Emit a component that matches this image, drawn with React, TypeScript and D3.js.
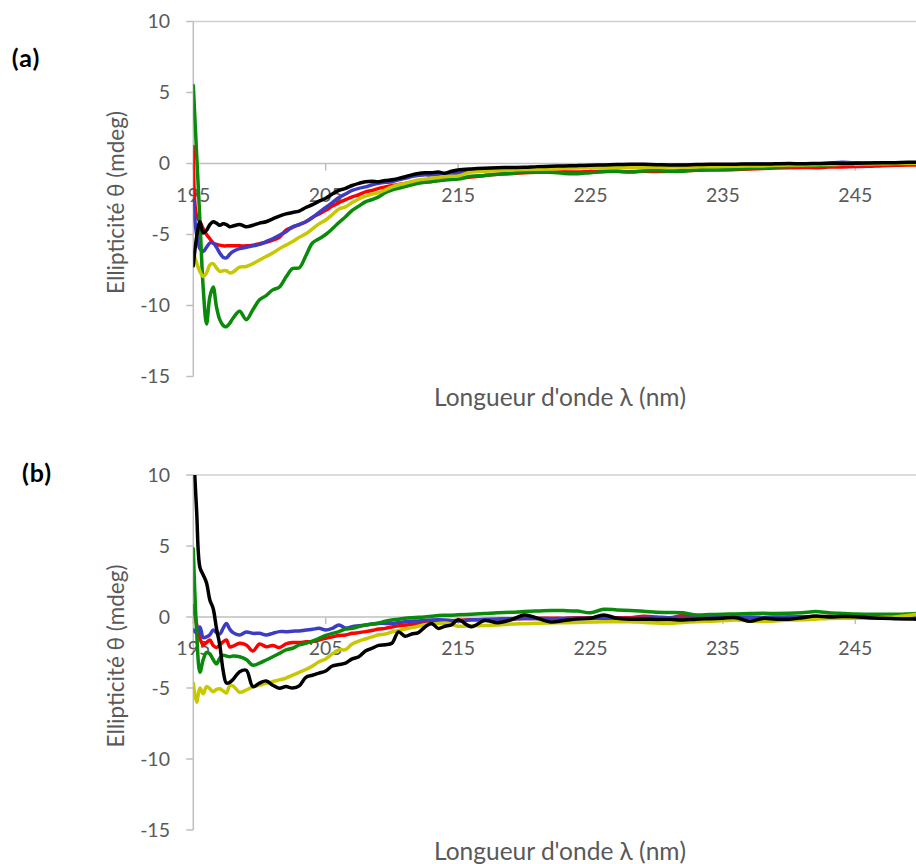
import React from "react";
import * as d3 from "d3";

// Wavelength grid (nm)
const WL: number[] = [
  195, 195.25, 195.5, 195.75, 196, 196.25, 196.5, 196.75, 197, 197.25, 197.5, 197.75, 198,
  198.5, 199, 199.5, 200, 200.5, 201, 201.5, 202, 202.5, 203, 203.5, 204, 204.5, 205,
  205.5, 206, 206.5, 207, 207.5, 208, 208.5, 209, 209.5, 210, 210.5, 211, 211.5, 212, 212.5, 213, 213.5, 214, 214.5, 215,
  216, 217, 218, 219, 220, 221, 222, 223, 224, 225, 226, 227, 228, 229, 230, 231, 232, 233, 234, 235,
  236, 237, 238, 239, 240, 241, 242, 243, 244, 245, 246, 247, 248, 249, 250,
];

const X_TICKS = [195, 205, 215, 225, 235, 245];
const Y_TICKS = [10, 5, 0, -5, -10, -15];
const X_TITLE = "Longueur d'onde λ (nm)";
const Y_TITLE = "Ellipticité θ (mdeg)";
const PANEL_LABELS = ["(a)", "(b)"];

// Panel (a)
const A_RED = [
  1.2, -3.7, -4.1, -4.6, -5.0, -5.3, -5.6, -5.7, -5.75, -5.8, -5.8, -5.8, -5.8,
  -5.8, -5.8, -5.75, -5.65, -5.55, -5.4, -5.2, -4.7, -4.5, -4.3, -4.1, -3.8, -3.55, -3.3,
  -3.0, -2.75, -2.55, -2.35, -2.2, -2.0, -1.9, -1.75, -1.65, -1.55, -1.47, -1.4, -1.33, -1.28, -1.27, -1.25, -1.18, -1.1, -1.07, -1.04,
  -0.95, -0.85, -0.75, -0.7, -0.65, -0.62, -0.6, -0.58, -0.6, -0.57, -0.55, -0.55, -0.58, -0.55, -0.57, -0.55, -0.5, -0.48, -0.46, -0.45,
  -0.42, -0.38, -0.35, -0.32, -0.3, -0.28, -0.3, -0.25, -0.24, -0.22, -0.2, -0.15, -0.12, -0.1, -0.1,
];
const A_BLUE = [
  -2.6, -5.0, -6.0, -6.2, -5.9, -5.6, -5.6, -5.9, -6.3, -6.6, -6.65, -6.4, -6.2,
  -6.0, -5.9, -5.8, -5.7, -5.5, -5.3, -5.05, -4.8, -4.45, -4.3, -4.1, -3.8, -3.45, -3.1,
  -2.75, -2.4, -2.15, -1.9, -1.75, -1.65, -1.5, -1.4, -1.33, -1.28, -1.15, -1.05, -0.92, -0.82, -0.8, -0.8, -0.75, -0.7, -0.68, -0.68,
  -0.5, -0.45, -0.4, -0.36, -0.34, -0.3, -0.28, -0.25, -0.24, -0.22, -0.2, -0.2, -0.17, -0.15, -0.17, -0.15, -0.13, -0.12, -0.1, -0.1,
  -0.08, -0.07, -0.05, -0.05, -0.03, -0.02, -0.02, 0.02, 0.08, 0.05, 0.0, 0.02, 0.03, 0.04, 0.03,
];
const A_GREEN = [
  5.5, 0.7, -4.0, -8.8, -11.3, -9.4, -8.7, -10.1, -11.0, -11.4, -11.5, -11.25, -10.9,
  -10.4, -11.0, -10.3, -9.6, -9.3, -8.9, -8.7, -8.0, -7.4, -7.35, -6.5, -5.6, -5.3, -5.0,
  -4.6, -4.15, -3.75, -3.3, -3.0, -2.7, -2.55, -2.35, -2.05, -1.87, -1.75, -1.63, -1.5, -1.4, -1.33, -1.28, -1.22, -1.16, -1.12, -1.1,
  -0.9, -0.85, -0.75, -0.7, -0.6, -0.6, -0.62, -0.7, -0.72, -0.65, -0.58, -0.55, -0.6, -0.52, -0.5, -0.55, -0.55, -0.45, -0.42, -0.4,
  -0.38, -0.35, -0.3, -0.25, -0.22, -0.18, -0.15, -0.1, -0.05, 0.0, 0.02, 0.0, 0.03, 0.05, 0.05,
];
const A_YELLOW = [
  -6.3, -7.0, -7.6, -7.95, -7.7, -7.15, -7.05, -7.35, -7.6, -7.55, -7.55, -7.7, -7.65,
  -7.3, -7.25, -7.05, -6.8, -6.55, -6.3, -6.0, -5.75, -5.5, -5.2, -4.95, -4.6, -4.25, -3.98,
  -3.6, -3.2, -3.05, -2.75, -2.5, -2.3, -2.15, -2.05, -1.85, -1.65, -1.5, -1.4, -1.27, -1.16, -1.1, -1.04, -0.98, -0.93, -0.9, -0.88,
  -0.6, -0.55, -0.5, -0.45, -0.42, -0.4, -0.38, -0.35, -0.32, -0.3, -0.3, -0.28, -0.3, -0.27, -0.27, -0.25, -0.26, -0.24, -0.23, -0.22,
  -0.2, -0.18, -0.17, -0.13, -0.1, -0.1, -0.08, -0.07, -0.06, -0.05, -0.03, -0.02, 0.0, 0.01, 0.02,
];
const A_BLACK = [
  -7.2, -5.2, -4.1, -4.9, -4.7, -4.3, -4.1, -4.2, -4.35, -4.25, -4.3, -4.45, -4.4,
  -4.3, -4.45, -4.35, -4.2, -4.1, -3.9, -3.7, -3.55, -3.45, -3.35, -3.1, -2.9, -2.65, -2.45,
  -2.15, -1.9, -1.75, -1.55, -1.4, -1.28, -1.25, -1.28, -1.2, -1.15, -1.05, -0.93, -0.8, -0.7, -0.65, -0.65, -0.6, -0.68, -0.55, -0.46,
  -0.38, -0.33, -0.3, -0.28, -0.27, -0.22, -0.2, -0.17, -0.15, -0.12, -0.1, -0.07, -0.05, -0.06, -0.08, -0.1, -0.1, -0.07, -0.05, -0.06,
  -0.05, -0.03, -0.04, -0.02, 0.0, -0.02, 0.0, 0.02, 0.0, 0.01, 0.03, 0.05, 0.06, 0.08, 0.08,
];

// Panel (b)
const B_RED = [
  0.8, -0.5, -1.5, -1.97, -1.8, -1.62, -2.0, -2.15, -1.97, -1.75, -1.62, -2.1, -2.05,
  -1.85, -1.97, -2.4, -1.9, -2.09, -2.0, -2.15, -1.9, -1.8, -1.8, -1.75, -1.72, -1.62, -1.5,
  -1.4, -1.3, -1.27, -1.15, -1.1, -1.03, -0.95, -0.85, -0.8, -0.7, -0.62, -0.56, -0.52, -0.45, -0.42, -0.36, -0.32, -0.3, -0.27, -0.22,
  -0.2, -0.17, -0.15, -0.12, -0.1, -0.1, -0.08, -0.1, -0.05, -0.05, -0.08, -0.05, -0.05, 0.05, 0.0, -0.05, 0.1, -0.05, -0.03, -0.05,
  -0.02, 0.0, -0.05, -0.03, 0.0, 0.02, 0.0, 0.05, 0.03, 0.0, -0.02, 0.0, 0.02, 0.0, -0.02,
];
const B_BLUE = [
  -0.9, -1.1, -0.7, -1.45, -1.4, -1.25, -0.92, -1.1, -1.2, -0.8, -0.45, -0.85, -1.1,
  -1.27, -1.05, -1.15, -1.15, -1.27, -1.15, -1.03, -1.03, -1.0, -0.98, -0.92, -0.87, -0.8, -0.92,
  -0.8, -0.56, -0.78, -0.68, -0.62, -0.56, -0.5, -0.45, -0.45, -0.45, -0.4, -0.33, -0.3, -0.28, -0.25, -0.21, -0.2, -0.21, -0.25, -0.28,
  -0.2, -0.18, -0.15, -0.12, -0.1, -0.1, -0.12, -0.1, -0.08, -0.08, -0.05, -0.08, -0.1, -0.08, -0.05, -0.05, -0.08, -0.05, -0.05, -0.03,
  -0.02, -0.05, -0.03, 0.0, -0.02, 0.0, 0.02, 0.0, 0.02, -0.05, -0.07, -0.05, -0.03, -0.02, 0.0,
];
const B_GREEN = [
  4.8, -1.0, -3.9, -3.0, -2.5, -2.6, -3.0, -3.3, -2.9, -2.7, -2.75, -2.8, -2.75,
  -2.8, -3.0, -3.4, -3.25, -3.03, -2.8, -2.56, -2.32, -2.2, -1.97, -1.85, -1.7, -1.5, -1.3,
  -1.15, -1.03, -0.85, -0.8, -0.68, -0.56, -0.5, -0.42, -0.3, -0.21, -0.16, -0.09, -0.05, -0.02, 0.0, 0.05, 0.1, 0.12, 0.13, 0.15,
  0.19, 0.24, 0.3, 0.33, 0.38, 0.42, 0.45, 0.45, 0.42, 0.3, 0.54, 0.5, 0.45, 0.4, 0.33, 0.32, 0.3, 0.14, 0.17, 0.19,
  0.22, 0.24, 0.26, 0.25, 0.26, 0.3, 0.38, 0.3, 0.25, 0.21, 0.2, 0.19, 0.19, 0.22, 0.26,
];
const B_YELLOW = [
  -4.67, -6.0, -5.0, -5.4, -4.9, -5.05, -5.26, -5.1, -5.05, -5.2, -5.35, -4.85, -4.85,
  -5.3, -5.14, -4.9, -4.8, -4.67, -4.55, -4.43, -4.3, -4.1, -3.9, -3.7, -3.45, -3.15, -2.95,
  -2.6, -2.32, -2.3, -1.9, -1.7, -1.55, -1.4, -1.25, -1.2, -1.05, -0.95, -0.85, -0.75, -0.65, -0.55, -0.5, -0.45, -0.42, -0.5, -0.65,
  -0.62, -0.6, -0.56, -0.5, -0.47, -0.44, -0.42, -0.4, -0.38, -0.35, -0.33, -0.33, -0.33, -0.38, -0.42, -0.45, -0.38, -0.33, -0.3, -0.25,
  -0.22, -0.28, -0.32, -0.28, -0.22, -0.2, -0.15, -0.1, -0.09, -0.09, -0.08, -0.03, 0.0, 0.1, 0.25,
];
const B_BLACK = [
  12, 7.5, 3.5, 2.96, 2.4, 1.2, 0.6, -0.8, -1.97, -3.75, -4.65, -4.6, -4.4,
  -3.85, -3.75, -4.9, -4.65, -4.5, -4.8, -5.02, -4.9, -5.0, -4.85, -4.25, -4.1, -3.95, -3.8,
  -3.45, -3.35, -3.25, -2.95, -2.8, -2.4, -2.2, -2.0, -1.95, -1.85, -1.05, -1.35, -1.2, -1.1, -0.7, -0.45, -0.8, -0.65, -0.55, -0.2,
  -0.68, -0.25, -0.4, -0.2, 0.14, -0.09, -0.35, -0.25, -0.15, -0.09, 0.14, -0.09, -0.16, -0.16, -0.17, -0.18, -0.21, -0.15, -0.12, -0.08,
  -0.05, -0.3, -0.1, -0.15, -0.15, -0.05, 0.07, 0.0, 0.03, 0.02, -0.05, -0.09, -0.12, -0.14, -0.16,
];

const COLORS = {
  red: "#ff0000",
  blue: "#3c3cc4",
  green: "#0a8a0a",
  yellow: "#c8c800",
  black: "#000000",
};

type Series = { key: string; color: string; values: number[] };

const PANELS: { label: string; top: number; series: Series[] }[] = [
  {
    label: PANEL_LABELS[0],
    top: 21.5,
    series: [
      { key: "red", color: COLORS.red, values: A_RED },
      { key: "blue", color: COLORS.blue, values: A_BLUE },
      { key: "green", color: COLORS.green, values: A_GREEN },
      { key: "yellow", color: COLORS.yellow, values: A_YELLOW },
      { key: "black", color: COLORS.black, values: A_BLACK },
    ],
  },
  {
    label: PANEL_LABELS[1],
    top: 475,
    series: [
      { key: "red", color: COLORS.red, values: B_RED },
      { key: "blue", color: COLORS.blue, values: B_BLUE },
      { key: "green", color: COLORS.green, values: B_GREEN },
      { key: "yellow", color: COLORS.yellow, values: B_YELLOW },
      { key: "black", color: COLORS.black, values: B_BLACK },
    ],
  },
];

const W = 916;
const H = 864;
const LEFT = 193.3;
const PLOT_H = 355;
const AXIS = "#bfbfbf";
const GRID = "#d0d0d0";
const TXT = "#595959";
const FONT = "Lato, 'Open Sans', sans-serif";

const x = d3.scaleLinear().domain([195, 250]).range([LEFT, LEFT + 55 * 13.24]);

function Panel({ idx }: { idx: number }) {
  const p = PANELS[idx];
  const y = d3.scaleLinear().domain([-15, 10]).range([p.top + PLOT_H, p.top]);
  const y0 = y(0);
  const line = d3
    .line<number>()
    .x((_, i) => x(WL[i]))
    .y((v) => y(v))
    .curve(d3.curveCatmullRom.alpha(0.5));
  const clipId = `clip-${idx}`;
  const labelY = idx === 0 ? 58 : 473;
  const labelX = idx === 0 ? 26 : 37;
  return (
    <g>
      <defs>
        <clipPath id={clipId}>
          <rect x={LEFT} y={p.top} width={W - LEFT} height={PLOT_H} />
        </clipPath>
      </defs>
      {/* top line at max */}
      <line x1={LEFT} x2={W} y1={y(10)} y2={y(10)} stroke={GRID} strokeWidth={1.5} />
      {/* y axis */}
      <line x1={LEFT} x2={LEFT} y1={p.top} y2={p.top + PLOT_H} stroke={AXIS} strokeWidth={1.5} />
      {Y_TICKS.map((t) => (
        <g key={t}>
          <line x1={LEFT - 7} x2={LEFT} y1={y(t)} y2={y(t)} stroke={AXIS} strokeWidth={1.5} />
          <text
            x={170}
            y={y(t)}
            dy="0.35em"
            textAnchor="end"
            fontFamily={FONT}
            fontSize={19.5}
            fill={TXT}
          >
            {t}
          </text>
        </g>
      ))}
      {/* zero line (x axis) */}
      <line x1={LEFT} x2={W} y1={y0} y2={y0} stroke={AXIS} strokeWidth={1.5} />
      {X_TICKS.map((t) => (
        <g key={t}>
          <line x1={x(t)} x2={x(t)} y1={y0} y2={y0 + 7} stroke={AXIS} strokeWidth={1.5} />
          <text
            x={x(t)}
            y={y0 + 38}
            textAnchor="middle"
            fontFamily={FONT}
            fontSize={19.5}
            fill={TXT}
          >
            {t}
          </text>
        </g>
      ))}
      <g clipPath={`url(#${clipId})`}>
        {p.series.map((s) => (
          <path
            key={s.key}
            d={line(s.values) || ""}
            fill="none"
            stroke={s.color}
            strokeWidth={3.5}
            strokeLinejoin="round"
            strokeLinecap="round"
          />
        ))}
      </g>
      {/* titles */}
      <text
        x={560}
        y={p.top + 384.5}
        textAnchor="middle"
        fontFamily={FONT}
        fontSize={24.5}
        fill={TXT}
      >
        {X_TITLE}
      </text>
      <text
        transform={`translate(124,${p.top + 181}) rotate(-90)`}
        textAnchor="middle"
        fontFamily={FONT}
        fontSize={22.5}
        fill={TXT}
      >
        {Y_TITLE}
      </text>
      <text
        x={labelX}
        y={labelY}
        dy="0.35em"
        textAnchor="middle"
        fontFamily={FONT}
        fontWeight="bold"
        fontSize={25}
        letterSpacing={1}
        fill="#000"
      >
        {p.label}
      </text>
    </g>
  );
}

export default function App() {
  return (
    <svg
      width={W}
      height={H}
      viewBox={`0 0 ${W} ${H}`}
      style={{ position: "absolute", left: 0, top: 0, background: "#fff" }}
    >
      <rect x={0} y={0} width={W} height={H} fill="#fff" />
      <Panel idx={0} />
      <Panel idx={1} />
    </svg>
  );
}
